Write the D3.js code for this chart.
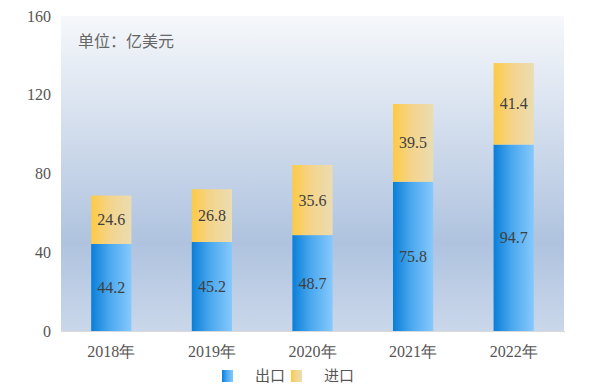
<!DOCTYPE html>
<html>
<head>
<meta charset="utf-8">
<script src="https://cdn.jsdelivr.net/npm/d3@7"></script>
<style>
  body { margin: 0; background: #fff; }
</style>
</head>
<body>
<div class="canvas"></div>
<script>
const years = ['2018年', '2019年', '2020年', '2021年', '2022年'];
const exportVals = [44.2, 45.2, 48.7, 75.8, 94.7];
const importVals = [24.6, 26.8, 35.6, 39.5, 41.4];
const yTicks = [0, 40, 80, 120, 160];

const serif = "'Liberation Serif', 'Times New Roman', serif";
const cjk = "'Noto Sans CJK SC', sans-serif";

const dims = {width: 601, height: 392};
const plot = {left: 61, right: 564, top: 16, bottom: 331};

const svg = d3.select('.canvas')
.append('svg')
.attr('width', dims.width)
.attr('height', dims.height);

const defs = svg.append('defs');

// background gradient
const bg = defs.append('linearGradient')
.attr('id', 'bg').attr('x1', 0).attr('y1', 0).attr('x2', 0).attr('y2', 1);
bg.append('stop').attr('offset', '0%').attr('stop-color', '#f6f8fb');
bg.append('stop').attr('offset', '72%').attr('stop-color', '#afc3df');
bg.append('stop').attr('offset', '100%').attr('stop-color', '#cad7ea');

const blue = defs.append('linearGradient').attr('id', 'blue');
blue.append('stop').attr('offset', '0%').attr('stop-color', '#0a7ed8');
blue.append('stop').attr('offset', '45%').attr('stop-color', '#4aa8ee');
blue.append('stop').attr('offset', '100%').attr('stop-color', '#86c9fd');

const yellow = defs.append('linearGradient').attr('id', 'yellow');
yellow.append('stop').attr('offset', '0%').attr('stop-color', '#fdca46');
yellow.append('stop').attr('offset', '45%').attr('stop-color', '#f4d48a');
yellow.append('stop').attr('offset', '100%').attr('stop-color', '#ebdcb2');

svg.append('rect')
.attr('x', plot.left).attr('y', plot.top)
.attr('width', plot.right - plot.left).attr('height', plot.bottom - plot.top)
.attr('fill', 'url(#bg)');

const x = d3.scaleBand()
.domain(years)
.range([plot.left, plot.right])
.paddingInner(0.6)
.paddingOuter(0.3);

const y = d3.scaleLinear()
.domain([0, 160])
.range([plot.bottom, plot.top]);

// x axis line
svg.append('line')
.attr('x1', plot.left).attr('x2', plot.right + 1)
.attr('y1', plot.bottom + 0.5).attr('y2', plot.bottom + 0.5)
.attr('stroke', '#d9d9d9').attr('stroke-width', 1);

// y tick labels
svg.selectAll('.ytick')
.data(yTicks)
.enter()
.append('text')
.attr('class', 'ytick')
.attr('x', 51)
.attr('y', d => y(d))
.attr('dy', '0.35em')
.attr('text-anchor', 'end')
.attr('fill', '#555')
.attr('font-family', serif)
.attr('font-size', 16)
.text(d => d);

// x labels
svg.selectAll('.xlabel')
.data(years)
.enter()
.append('text')
.attr('class', 'xlabel')
.attr('x', d => x(d) + x.bandwidth() / 2)
.attr('y', 351)
.attr('dy', '0.35em')
.attr('text-anchor', 'middle')
.attr('fill', '#555')
.attr('font-family', serif)
.attr('font-size', 16)
.text(d => d);

const data = years.map((d, i) => ({year: d, exp: exportVals[i], imp: importVals[i]}));

const bars = svg.selectAll('.bar')
.data(data)
.enter()
.append('g')
.attr('class', 'bar');

bars.append('rect')
.attr('x', d => x(d.year))
.attr('width', x.bandwidth())
.attr('y', d => y(d.exp))
.attr('height', d => y(0) - y(d.exp))
.attr('fill', 'url(#blue)');

bars.append('rect')
.attr('x', d => x(d.year))
.attr('width', x.bandwidth())
.attr('y', d => y(d.exp + d.imp))
.attr('height', d => y(d.exp) - y(d.exp + d.imp))
.attr('fill', 'url(#yellow)');

bars.append('text')
.attr('x', d => x(d.year) + x.bandwidth() / 2)
.attr('y', d => y(d.exp / 2))
.attr('dy', '0.35em')
.attr('text-anchor', 'middle')
.attr('fill', '#404040')
.attr('font-family', serif)
.attr('font-size', 16)
.text(d => d.exp.toFixed(1));

bars.append('text')
.attr('x', d => x(d.year) + x.bandwidth() / 2)
.attr('y', d => y(d.exp + d.imp / 2))
.attr('dy', '0.35em')
.attr('text-anchor', 'middle')
.attr('fill', '#404040')
.attr('font-family', serif)
.attr('font-size', 16)
.text(d => d.imp.toFixed(1));

// unit label
svg.append('text')
.attr('x', 78)
.attr('y', 41)
.attr('dy', '0.35em')
.attr('fill', '#666')
.attr('font-family', cjk)
.attr('font-size', 16)
.text('单位：亿美元');

// legend
const legend = [
  {name: '出口', fill: 'url(#blue)', x: 222},
  {name: '进口', fill: 'url(#yellow)', x: 291}
];
const lg = svg.selectAll('.legend')
.data(legend)
.enter()
.append('g')
.attr('class', 'legend');

lg.append('rect')
.attr('x', d => d.x)
.attr('y', 370)
.attr('width', 11)
.attr('height', 12)
.attr('fill', d => d.fill);

lg.append('text')
.attr('x', d => d.x + 33)
.attr('y', 376)
.attr('dy', '0.35em')
.attr('fill', '#555')
.attr('font-family', cjk)
.attr('font-size', 15)
.text(d => d.name);
</script>
</body>
</html>
